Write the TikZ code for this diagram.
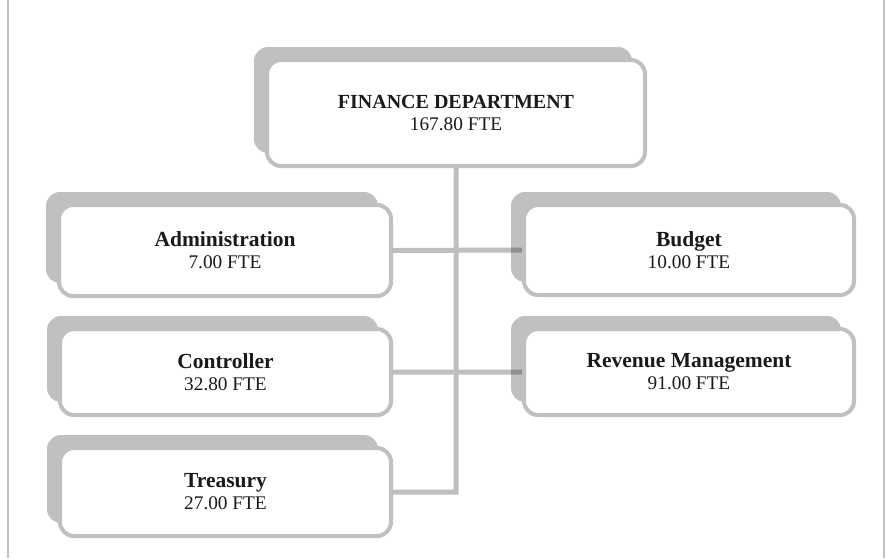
\documentclass[tikz,border=0pt]{standalone}
\usepackage{fontspec}
\setmainfont{Liberation Serif}
\usetikzlibrary{shadows}
\definecolor{boxgray}{HTML}{C0C0C0}
\definecolor{txt}{HTML}{1A1A1A}
\newcommand\orgtext[3][21.5]{{\fontsize{#1}{22}\selectfont\bfseries #2}\\{\fontsize{19.3}{22}\selectfont #3}}
\begin{document}
\begin{tikzpicture}[x=1pt,y=1pt,
  orgbox/.style={draw=boxgray, line width=4pt, fill=white, rounded corners=14pt,
    align=center, inner sep=0pt, text=txt, font=\fontsize{20}{22}\selectfont,
    general shadow={fill=boxgray, shadow xshift=-13pt, shadow yshift=13pt}},
  conn/.style={draw=black, opacity=0.25, line width=5pt}]
\useasboundingbox (0,0) rectangle (886,-558);
\fill[white] (0,0) rectangle (886,-558);
\draw[boxgray, line width=2pt] (8,0) -- (8,-558);
\draw[boxgray, line width=2pt] (884,0) -- (884,-558);

\node[orgbox, minimum width=378pt, minimum height=106pt] (fin) at (456,-113)
  {\orgtext[20]{FINANCE DEPARTMENT}{167.80 FTE}};
\node[orgbox, minimum width=332pt, minimum height=91pt] (adm) at (225,-250.5)
  {\orgtext{Administration}{7.00 FTE}};
\node[orgbox, minimum width=330pt, minimum height=90pt] (bud) at (689,-250)
  {\orgtext{Budget}{10.00 FTE}};
\node[orgbox, minimum width=331pt, minimum height=86pt] (con) at (225.5,-372)
  {\orgtext{Controller}{32.80 FTE}};
\node[orgbox, minimum width=330pt, minimum height=86pt] (rev) at (689,-372)
  {\orgtext{Revenue Management}{91.00 FTE}};
\node[orgbox, minimum width=331pt, minimum height=88pt] (tre) at (225.5,-492)
  {\orgtext{Treasury}{27.00 FTE}};

\draw[conn] (fin.south) -- (fin.south |- tre.east) -- (tre.east)
  (adm.east) -- (bud.west)
  (con.east) -- (rev.west);
\end{tikzpicture}
\end{document}
